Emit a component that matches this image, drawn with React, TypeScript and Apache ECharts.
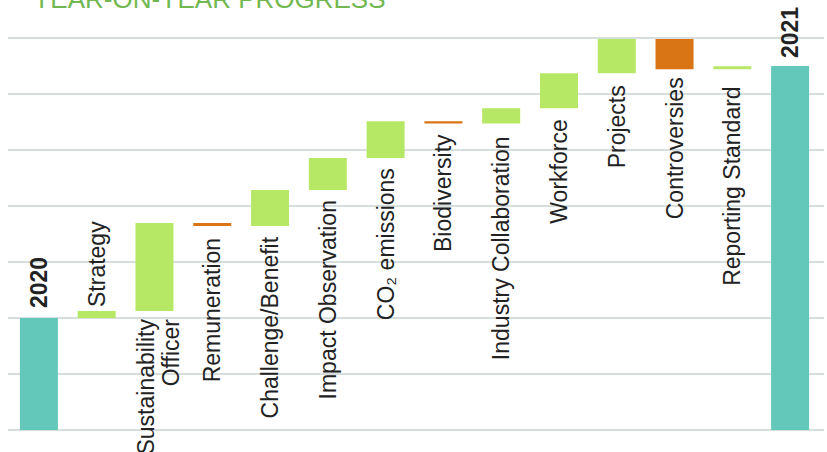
import React, { useEffect, useRef } from "react";
import * as echarts from "echarts";

// ---- data ----
const categories = [
  "2020",
  "Strategy",
  "Sustainability\nOfficer",
  "Remuneration",
  "Challenge/Benefit",
  "Impact Observation",
  "CO₂ emissions",
  "Biodiversity",
  "Industry Collaboration",
  "Workforce",
  "Projects",
  "Controversies",
  "Reporting Standard",
  "2021",
];
const startValue = 20; // 2020 total
const changes = [1.25, 15.7, -0.5, 6.4, 5.7, 6.6, -0.4, 2.7, 6.25, 6.1, -5.4, 0.55];
const endValue = 65; // 2021 total
const yMin = 0;
const yMax = 70;
const yInterval = 10;

// label placement per category (above bar or hanging below it) and gap
const labelAbove = [true, true, false, false, false, false, false, false, false, false, false, false, false, true];
const labelGap = [10, 4, 8, 12, 11, 10, 10, 11, 13, 11, 12, 8, 17, 8];
const labelShiftX = [0, 0, 4, 0, 0, 0, 0, 0, 0, 0, 0, 0, 0, 0];

const TOTAL = "#63c8b9";
const UP = "#b6e865";
const DOWN = "#d97515";
const FONT = "'Liberation Sans', Arial, Helvetica, sans-serif";

export default function App() {
  const ref = useRef<HTMLDivElement>(null);

  useEffect(() => {
    if (!ref.current) return;
    const chart = echarts.init(ref.current, undefined, { renderer: "svg" });

    const base: number[] = [0];
    const vis: { value: number; color: string; total: boolean }[] = [
      { value: startValue, color: TOTAL, total: true },
    ];
    let level = startValue;
    changes.forEach((c) => {
      if (c >= 0) {
        base.push(level);
        vis.push({ value: c, color: UP, total: false });
      } else {
        base.push(level + c);
        vis.push({ value: -c, color: DOWN, total: false });
      }
      level += c;
    });
    base.push(0);
    vis.push({ value: endValue, color: TOTAL, total: true });

    const visData = vis.map((d, i) => ({
      value: d.value,
      itemStyle: { color: d.color },
      label: {
        show: true,
        rotate: 90,
        position: labelAbove[i] ? "top" : "bottom",
        align: labelAbove[i] ? "left" : "right",
        verticalAlign: "middle",
        distance: labelGap[i],
        // offset is applied in the label's rotated frame: local y points right
        offset: [0, labelShiftX[i]],
        fontWeight: d.total ? "bold" : "normal",
      },
    }));

    chart.setOption({
      animation: false,
      grid: [
        { left: 8, right: 3, top: 38, bottom: 22 },
        { left: 10, right: 8, top: 38, bottom: 22 },
      ],
      xAxis: [
        { gridIndex: 0, type: "value", min: 0, max: 1, show: false },
        {
          gridIndex: 1,
          type: "category",
          data: categories,
          show: false,
        },
      ],
      yAxis: [
        {
          gridIndex: 0,
          type: "value",
          min: yMin,
          max: yMax,
          interval: yInterval,
          axisLabel: { show: false },
          axisLine: { show: false },
          axisTick: { show: false },
          splitLine: { show: true, lineStyle: { color: "#c8d3d3", width: 1.5 } },
        },
        { gridIndex: 1, type: "value", min: yMin, max: yMax, show: false },
      ],
      series: [
        {
          type: "bar",
          stack: "w",
          xAxisIndex: 1,
          yAxisIndex: 1,
          barWidth: 38,
          silent: true,
          itemStyle: { color: "transparent" },
          data: base,
        },
        {
          type: "bar",
          stack: "w",
          xAxisIndex: 1,
          yAxisIndex: 1,
          barWidth: 38,
          label: {
            show: true,
            fontSize: 23,
            fontFamily: FONT,
            color: "#222222",
            lineHeight: 25,
            formatter: (p: any) => categories[p.dataIndex],
          },
          data: visData,
        },
      ],
      graphic: [
        {
          type: "text",
          x: 33,
          y: -1,
          style: {
            text: "YEAR-ON-YEAR PROGRESS",
            fontSize: 26,
            fontFamily: FONT,
            fill: "#72b850",
            verticalAlign: "middle",
          },
        },
      ],
    });

    return () => chart.dispose();
  }, []);

  return (
    <div
      ref={ref}
      style={{ position: "fixed", left: 0, top: 0, width: 827, height: 452, background: "#fff" }}
    />
  );
}
